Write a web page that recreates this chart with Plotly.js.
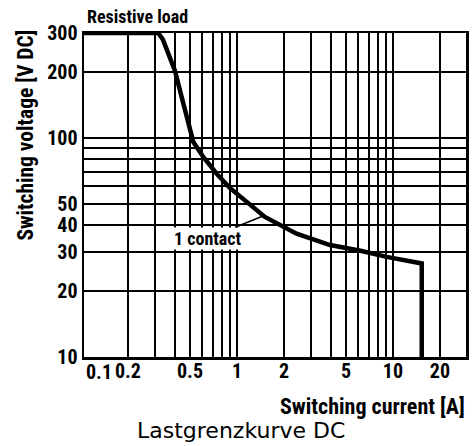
<!DOCTYPE html>
<html>
<head>
<meta charset="utf-8">
<script src="https://cdn.plot.ly/plotly-3.0.1.min.js"></script>
<style>html,body{margin:0;padding:0;background:#fff;}#chart{width:476px;height:446px;}</style>
</head>
<body>
<div id="chart"></div>
<script>
// Load limit curve, 1 contact (DC, resistive load)
const currentA = [0.1045, 0.313, 0.335, 0.354, 0.40, 0.442, 0.487, 0.525, 0.608, 0.741, 0.90, 1.27, 1.51, 2.41, 3.95, 6.2, 9.1, 15.3, 15.3];
const voltageV = [300, 300, 280, 254, 202, 153, 116, 95.5, 81.7, 68.5, 59, 48.3, 43.5, 36.5, 32.4, 30.5, 28.6, 26.7, 10];

const xTickVals = [0.2, 0.3, 0.4, 0.5, 0.6, 0.7, 0.8, 0.9, 1, 2, 3, 4, 5, 6, 7, 8, 9, 10, 20];
const xTickText = ['0.2', '', '', '0.5', '', '', '', '', '1', '2', '', '', '5', '', '', '', '', '10', '20'];
const yTickVals = [10, 20, 30, 40, 50, 60, 70, 80, 90, 100, 200, 300];
const yTickText = ['10', '20', '30', '40', '50', '', '', '', '', '100', '200', '300'];

const xTitle = 'Switching current [A]';
const yTitle = 'Switching voltage [V DC]';
const topNote = 'Resistive load';
const curveLabel = '1 contact';
const caption = 'Lastgrenzkurve DC';
const firstXLabel = '0.1';

const condensed = '"Roboto Condensed", "Liberation Sans", Arial, sans-serif';
const boldFont = (s) => ({family: condensed, size: s, color: '#000', weight: 'bold'});

const trace = {
  x: currentA, y: voltageV, type: 'scatter', mode: 'lines',
  line: {color: '#000', width: 4.5}, hoverinfo: 'skip', showlegend: false
};

const layout = {
  width: 476, height: 446,
  margin: {l: 84, r: 10, t: 33, b: 89},
  paper_bgcolor: '#fff', plot_bgcolor: '#fff',
  xaxis: {
    type: 'log', range: [Math.log10(0.1045), Math.log10(29.4)],
    tickmode: 'array', tickvals: xTickVals, ticktext: xTickText,
    showgrid: true, gridcolor: '#000', gridwidth: 2,
    showline: true, mirror: true, linecolor: '#000', linewidth: 2.5,
    ticks: '', zeroline: false, tickfont: boldFont(20), fixedrange: true,
    ticklabelstandoff: -6
  },
  yaxis: {
    type: 'log', range: [1, Math.log10(300)],
    tickmode: 'array', tickvals: yTickVals, ticktext: yTickText,
    showgrid: true, gridcolor: '#000', gridwidth: 2,
    showline: true, mirror: true, linecolor: '#000', linewidth: 2.5,
    ticks: '', zeroline: false, tickfont: boldFont(20), fixedrange: true
  },
  annotations: [
    {xref: 'paper', yref: 'paper', x: 0, y: -0.046, xanchor: 'left', yanchor: 'middle', showarrow: false,
     text: firstXLabel, font: boldFont(20)},
    {xref: 'paper', yref: 'paper', x: 0.003, y: 1.052, xanchor: 'left', yanchor: 'middle', showarrow: false,
     text: topNote, font: boldFont(18)},
    {xref: 'paper', yref: 'paper', x: 1.002, y: -0.154, xanchor: 'right', yanchor: 'middle', showarrow: false,
     text: xTitle, font: boldFont(22)},
    {xref: 'paper', yref: 'paper', x: -0.153, y: 0.685, xanchor: 'center', yanchor: 'middle', showarrow: false,
     textangle: -90, text: yTitle, font: boldFont(21.5)},
    {xref: 'paper', yref: 'paper', x: 0.411, y: -0.228, xanchor: 'center', yanchor: 'middle', showarrow: false,
     text: caption, font: {family: '"DejaVu Sans", Arial, sans-serif', size: 22, color: '#000'}},
    {xref: 'x', yref: 'y', x: Math.log10(1.51), y: Math.log10(44.3), ax: -57, ay: 23,
     showarrow: true, arrowhead: 0, arrowwidth: 1.5, arrowcolor: '#000', standoff: 0,
     text: curveLabel, font: boldFont(18), bgcolor: 'rgba(255,255,255,1)', borderpad: 0}
  ]
};

Plotly.newPlot('chart', [trace], layout, {staticPlot: true, displayModeBar: false});
</script>
</body>
</html>
